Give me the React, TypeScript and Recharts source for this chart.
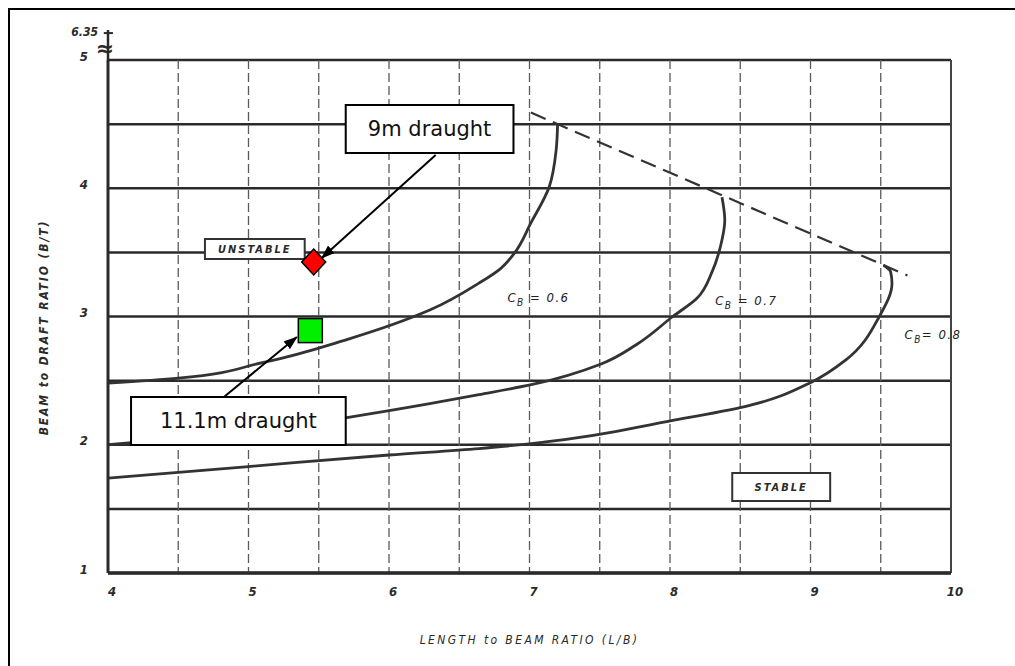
import React from 'react';
import {
  ComposedChart, Line, Scatter, XAxis, YAxis, CartesianGrid,
  ReferenceArea, ReferenceLine, ReferenceDot,
} from 'recharts';

// ---------- data ----------
const xTicks = [4, 4.5, 5, 5.5, 6, 6.5, 7, 7.5, 8, 8.5, 9, 9.5, 10];
const yTicks = [1, 1.5, 2, 2.5, 3, 3.5, 4, 4.5, 5];
const yBreakLabel = '6.35';

const cb06 = [
  { x: 4.0, y: 2.48 }, { x: 4.5, y: 2.52 }, { x: 5.1, y: 2.64 }, { x: 5.7, y: 2.82 },
  { x: 6.29, y: 3.05 }, { x: 6.64, y: 3.26 }, { x: 6.79, y: 3.37 }, { x: 6.89, y: 3.49 },
  { x: 7.01, y: 3.73 }, { x: 7.14, y: 4.01 }, { x: 7.19, y: 4.3 }, { x: 7.2, y: 4.5 },
];
const cb07 = [
  { x: 4.0, y: 2.0 }, { x: 4.5, y: 2.05 }, { x: 5.0, y: 2.1 }, { x: 5.69, y: 2.21 },
  { x: 6.29, y: 2.32 }, { x: 6.64, y: 2.39 }, { x: 7.02, y: 2.47 }, { x: 7.51, y: 2.63 },
  { x: 7.76, y: 2.78 }, { x: 8.02, y: 3.0 }, { x: 8.19, y: 3.14 }, { x: 8.3, y: 3.35 },
  { x: 8.36, y: 3.55 }, { x: 8.39, y: 3.75 }, { x: 8.37, y: 3.93 },
];
const cb08 = [
  { x: 4.0, y: 1.74 }, { x: 5.0, y: 1.83 }, { x: 6.0, y: 1.92 }, { x: 6.64, y: 1.97 },
  { x: 7.1, y: 2.02 }, { x: 8.02, y: 2.19 }, { x: 8.54, y: 2.3 }, { x: 9.01, y: 2.49 },
  { x: 9.25, y: 2.66 }, { x: 9.49, y: 3.0 }, { x: 9.58, y: 3.26 }, { x: 9.57, y: 3.35 },
  { x: 9.52, y: 3.4 },
];
const limitLine = [{ x: 7.01, y: 4.59 }, { x: 9.69, y: 3.32 }];
const draught9 = [{ x: 5.464, y: 3.425 }];
const draught11 = [{ x: 5.44, y: 2.89 }];

// ---------- annotations (data coordinates) ----------
const box9 = { x1: 5.692, x2: 6.886, y1: 4.275, y2: 4.649, text: '9m draught' };
const box11 = { x1: 4.164, x2: 5.692, y1: 1.998, y2: 2.372, text: '11.1m draught' };
const boxUnstable = { x1: 4.69, x2: 5.4, y1: 3.448, y2: 3.604, text: 'UNSTABLE' };
const boxStable = { x1: 8.443, x2: 9.14, y1: 1.561, y2: 1.78, text: 'STABLE' };
const arrow9 = [{ x: 6.332, y: 4.259 }, { x: 5.521, y: 3.456 }];
const arrow11 = [{ x: 4.825, y: 2.372 }, { x: 5.344, y: 2.84 }];
const cbLabels = [
  { x: 7.071, y: 3.144, value: '0.6', eq: ' = ' },
  { x: 8.55, y: 3.12, value: '0.7', eq: ' = ' },
  { x: 9.879, y: 2.856, value: '0.8', eq: '= ' },
];

const INK = '#2a2a2a';
const scanFont: React.CSSProperties = {
  fontFamily: '"DejaVu Sans Condensed", "DejaVu Sans", sans-serif',
  fontStyle: 'italic',
  fontWeight: 'bold',
  fill: INK,
};

const boxLabel = (text: string, style: React.CSSProperties) => (props: any) => {
  const vb = props.viewBox || {};
  return (
    <text x={vb.x + vb.width / 2} y={vb.y + vb.height / 2} textAnchor="middle"
      dominantBaseline="central" style={style}>{text}</text>
  );
};

const cbLabel = (value: string, eq: string) => (props: any) => {
  const vb = props.viewBox || {};
  return (
    <text x={vb.x} y={vb.y + 5} textAnchor="middle"
      style={{ ...scanFont, fontWeight: 'normal', fontSize: 13, letterSpacing: 1.5, fill: '#222' }}>
      <tspan>C</tspan>
      <tspan dy={4} fontSize={10}>B</tspan>
      <tspan dy={-4}>{eq}{value}</tspan>
    </text>
  );
};

const Diamond = (props: any) => {
  const { cx, cy } = props;
  return (
    <polygon points={`${cx},${cy - 13} ${cx + 12},${cy} ${cx},${cy + 13} ${cx - 12},${cy}`}
      fill="#ff0000" stroke="#000" strokeWidth={1.5} />
  );
};
const Square = (props: any) => {
  const { cx, cy } = props;
  return <rect x={cx - 12} y={cy - 12} width={24} height={24} fill="#00f000" stroke="#000" strokeWidth={1.5} />;
};

const intFmt = (v: number) => (Number.isInteger(v) ? String(v) : '');

export default function App() {
  return (
    <div style={{ position: 'absolute', left: 0, top: 0, width: 1015, height: 666, background: '#fff' }}>
      <div style={{ position: 'absolute', left: 8, top: 8, right: 0, bottom: 0, borderLeft: '2px solid #000', borderTop: '2px solid #000' }} />
      <div style={{ position: 'absolute', left: 0, top: 0 }}>
        <ComposedChart width={1015} height={666} margin={{ top: 60, right: 64, left: 0, bottom: 0 }}>
          <defs>
            <marker id="arrowHead" markerWidth={14} markerHeight={10} refX={13} refY={5}
              orient="auto" markerUnits="userSpaceOnUse">
              <path d="M0,0 L14,5 L0,10 z" fill="#000" />
            </marker>
          </defs>
          <CartesianGrid vertical={false} stroke={INK} strokeWidth={2.5} />
          <CartesianGrid horizontal={false} stroke="#5a5a5a" strokeWidth={1.3} strokeDasharray="9 4" />
          <XAxis type="number" dataKey="x" domain={[4, 10]} ticks={xTicks} tickFormatter={intFmt}
            allowDataOverflow interval={0} height={93} tickSize={0} tickMargin={14}
            axisLine={{ stroke: INK, strokeWidth: 3.5 }} tickLine={false}
            tick={{ ...scanFont, fontSize: 13, dx: 4 } as any}
            label={{
              value: 'LENGTH to BEAM RATIO (L/B)', position: 'insideBottom', offset: 22,
              style: { ...scanFont, fontWeight: 'normal', fontSize: 12, letterSpacing: 2.4 },
            } as any} />
          <YAxis type="number" domain={[1, 5]} ticks={yTicks} tickFormatter={intFmt}
            allowDataOverflow interval={0} width={108} tickSize={0} tickMargin={20}
            axisLine={{ stroke: INK, strokeWidth: 3 }} tickLine={false}
            tick={{ ...scanFont, fontSize: 13, dy: -4 } as any}
            label={{
              content: (p: any) => {
                const vb = p.viewBox || {};
                const cx = vb.x + 44;
                const cy = vb.y + vb.height / 2 + 11;
                return (
                  <text x={cx} y={cy} textAnchor="middle" dominantBaseline="central"
                    transform={`rotate(-90 ${cx} ${cy})`}
                    style={{ ...scanFont, fontSize: 12, letterSpacing: 1.9 }}>
                    BEAM to DRAFT RATIO (B/T)
                  </text>
                );
              },
            } as any} />

          <ReferenceLine x={10} stroke="#444" strokeWidth={2} />
          <ReferenceLine segment={[{ x: 4, y: 5 }, { x: 4, y: 5.234 }]} stroke={INK} strokeWidth={2.5} ifOverflow="visible" />
          <ReferenceLine segment={[{ x: 3.97, y: 5.21 }, { x: 4.035, y: 5.21 }]} stroke={INK} strokeWidth={2} ifOverflow="visible" />
          <ReferenceDot x={4} y={5.075} r={1} fill="none" stroke="none" ifOverflow="visible"
            label={(p: any) => (
              <text x={p.viewBox.x - 2} y={p.viewBox.y + 7} textAnchor="middle"
                style={{ fontFamily: 'DejaVu Sans', fontSize: 22, fill: INK, fontWeight: 'bold' }}>≈</text>
            )} />
          <ReferenceDot x={4} y={5.21} r={1} fill="none" stroke="none" ifOverflow="visible"
            label={(p: any) => (
              <text x={p.viewBox.x - 9} y={p.viewBox.y + 4} textAnchor="end"
                style={{ ...scanFont, fontSize: 12 }}>{yBreakLabel}</text>
            )} />

          <Line data={cb06} dataKey="y" type="monotoneY" stroke="#333" strokeWidth={2.8} dot={false} isAnimationActive={false} />
          <Line data={cb07} dataKey="y" type="monotoneY" stroke="#333" strokeWidth={2.8} dot={false} isAnimationActive={false} />
          <Line data={cb08} dataKey="y" type="monotoneY" stroke="#333" strokeWidth={2.8} dot={false} isAnimationActive={false} />
          <Line data={limitLine} dataKey="y" type="linear" stroke="#333" strokeWidth={2.2} strokeDasharray="16 8" dot={false} isAnimationActive={false} />

          {cbLabels.map((c, i) => (
            <ReferenceDot key={i} x={c.x} y={c.y} r={1} fill="none" stroke="none" ifOverflow="visible"
              label={cbLabel(c.value, c.eq)} />
          ))}

          <ReferenceArea x1={boxUnstable.x1} x2={boxUnstable.x2} y1={boxUnstable.y1} y2={boxUnstable.y2}
            fill="#fff" fillOpacity={1} stroke="#333" strokeWidth={2} ifOverflow="visible" {...({ zIndex: 1000 } as any)}
            label={boxLabel(boxUnstable.text, { ...scanFont, fontSize: 11, letterSpacing: 2 })} />
          <ReferenceArea x1={boxStable.x1} x2={boxStable.x2} y1={boxStable.y1} y2={boxStable.y2}
            fill="#fff" fillOpacity={1} stroke="#333" strokeWidth={2} ifOverflow="visible" {...({ zIndex: 1000 } as any)}
            label={boxLabel(boxStable.text, { ...scanFont, fontSize: 11, letterSpacing: 2 })} />
          <ReferenceArea x1={box9.x1} x2={box9.x2} y1={box9.y1} y2={box9.y2}
            fill="#fff" fillOpacity={1} stroke="#000" strokeWidth={2} ifOverflow="visible" {...({ zIndex: 1000 } as any)}
            label={boxLabel(box9.text, { fontFamily: '"DejaVu Sans", Verdana, sans-serif', fontSize: 21, fill: '#111' })} />
          <ReferenceArea x1={box11.x1} x2={box11.x2} y1={box11.y1} y2={box11.y2}
            fill="#fff" fillOpacity={1} stroke="#000" strokeWidth={2} ifOverflow="visible" {...({ zIndex: 1000 } as any)}
            label={boxLabel(box11.text, { fontFamily: '"DejaVu Sans", Verdana, sans-serif', fontSize: 21, fill: '#111' })} />

          <Line data={arrow9} dataKey="y" type="linear" stroke="#000" strokeWidth={2} dot={false}
            isAnimationActive={false} markerEnd="url(#arrowHead)" {...({ zIndex: 1100 } as any)} />
          <Line data={arrow11} dataKey="y" type="linear" stroke="#000" strokeWidth={2} dot={false}
            isAnimationActive={false} markerEnd="url(#arrowHead)" {...({ zIndex: 1100 } as any)} />

          <Scatter data={draught9} dataKey="y" shape={Diamond} isAnimationActive={false} {...({ zIndex: 1200 } as any)} />
          <Scatter data={draught11} dataKey="y" shape={Square} isAnimationActive={false} {...({ zIndex: 1200 } as any)} />
        </ComposedChart>
      </div>
    </div>
  );
}
